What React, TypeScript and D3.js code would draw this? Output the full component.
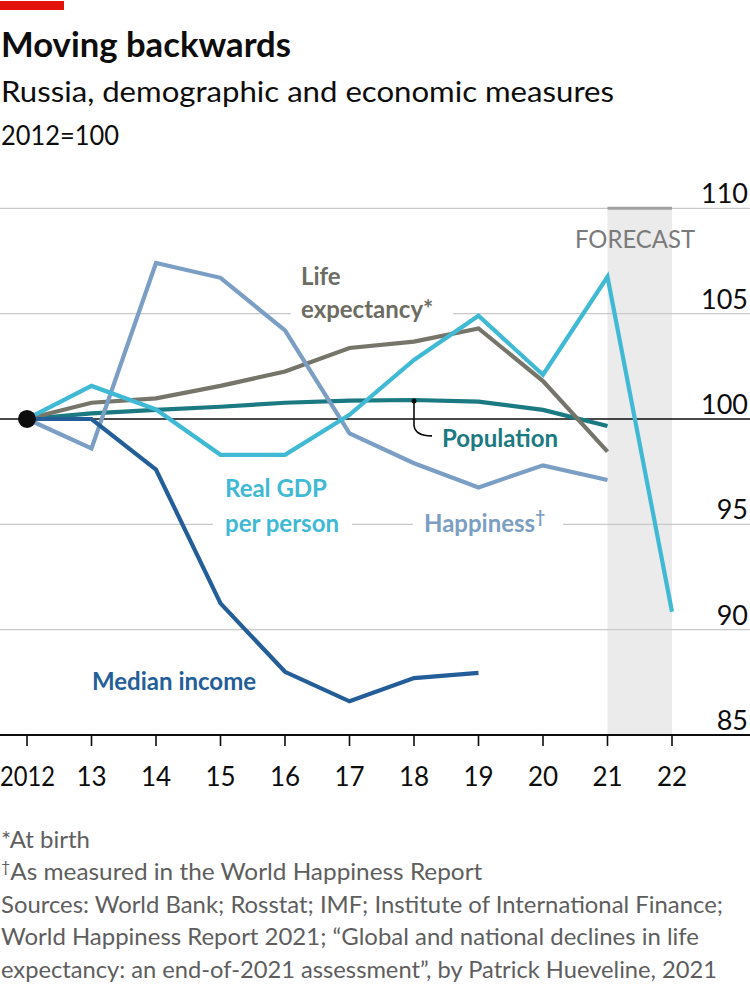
import React from "react";
import * as d3 from "d3";

const years = [2012, 2013, 2014, 2015, 2016, 2017, 2018, 2019, 2020, 2021, 2022];
const xTickLabels = ["2012", "13", "14", "15", "16", "17", "18", "19", "20", "21", "22"];
const yTicks = [85, 90, 95, 100, 105, 110];

const medianIncome = [100, 100, 97.6, 91.25, 88.0, 86.6, 87.7, 87.95];
const realGdp = [100, 101.57, 100.45, 98.3, 98.3, 100.2, 102.8, 104.9, 102.1, 106.75, 90.85];
const lifeExpectancy = [100, 100.77, 100.98, 101.57, 102.25, 103.37, 103.67, 104.3, 101.8, 98.45];
const population = [100, 100.27, 100.43, 100.58, 100.77, 100.87, 100.9, 100.82, 100.43, 99.67];
const happiness = [100, 98.6, 107.4, 106.7, 104.2, 99.32, 97.9, 96.75, 97.8, 97.1];

const forecastStart = 2021;
const forecastEnd = 2022;

const FONT = "Lato, 'Open Sans', sans-serif";

export default function App() {
  const W = 750;
  const H = 999;
  const x = d3.scaleLinear().domain([2012, 2022]).range([27, 672]);
  const y = d3.scaleLinear().domain([85, 110]).range([735, 208.3]);

  const line = d3
    .line<number>()
    .x((_, i) => x(years[i]))
    .y((d) => y(d));

  const series = [
    { key: "pop", values: population, color: "#1b7a81" },
    { key: "life", values: lifeExpectancy, color: "#76756a" },
    { key: "happy", values: happiness, color: "#7b9ec4" },
    { key: "income", values: medianIncome, color: "#245e99" },
    { key: "gdp", values: realGdp, color: "#40b9d5" },
  ];

  const labelStyle = { fontFamily: FONT, fontWeight: 700, fontSize: 24 } as const;

  return (
    <svg
      width={W}
      height={H}
      style={{ position: "absolute", left: 0, top: 0, background: "#fff" }}
    >
      <rect x={0} y={0} width={W} height={H} fill="#fff" />
      <rect x={0} y={1} width={64} height={9} fill="#e3120b" />
      <text x={1} y={57} fontFamily={FONT} fontWeight={700} fontSize={34} fill="#0d0d0d" textLength={290} lengthAdjust="spacingAndGlyphs">
        Moving backwards
      </text>
      <text x={1} y={102} fontFamily={FONT} fontSize={28} fill="#0d0d0d" textLength={613} lengthAdjust="spacingAndGlyphs">
        Russia, demographic and economic measures
      </text>
      <text x={1} y={145} fontFamily={FONT} fontSize={27} fill="#0d0d0d" textLength={118} lengthAdjust="spacingAndGlyphs">
        2012=100
      </text>

      {/* forecast band */}
      <rect
        x={x(forecastStart)}
        y={y(110)}
        width={x(forecastEnd) - x(forecastStart)}
        height={y(85) - y(110)}
        fill="#ebebeb"
      />

      {/* gridlines */}
      {yTicks
        .filter((t) => t !== 100 && t !== 85)
        .map((t) => (
          <line key={t} x1={0} x2={W} y1={y(t)} y2={y(t)} stroke="#c9c9c9" strokeWidth={1.3} />
        ))}
      <line
        x1={x(forecastStart)}
        x2={x(forecastEnd)}
        y1={y(110)}
        y2={y(110)}
        stroke="#a0a0a0"
        strokeWidth={3}
      />
      <text x={635} y={248} textAnchor="middle" fontFamily={FONT} fontSize={25} fill="#7a7a7a" textLength={120} lengthAdjust="spacingAndGlyphs">
        FORECAST
      </text>

      {/* label background gaps */}
      <rect x={291} y={294} width={162} height={34} fill="#fff" />
      <rect x={213} y={508} width={139} height={32} fill="#fff" />
      <rect x={413} y={508} width={150} height={32} fill="#fff" />

      {/* y tick labels */}
      {yTicks.map((t) => (
        <text key={t} x={748} y={y(t) - 5} textAnchor="end" fontFamily={FONT} fontSize={27} fill="#0d0d0d">
          {t}
        </text>
      ))}

      {/* baseline 100 */}
      <line x1={0} x2={W} y1={y(100)} y2={y(100)} stroke="#0d0d0d" strokeWidth={1.6} />

      {/* series */}
      {series.map((s) => (
        <path
          key={s.key}
          d={line(s.values) || ""}
          fill="none"
          stroke={s.color}
          strokeWidth={4.2}
          strokeLinejoin="miter"
        />
      ))}
      <circle cx={x(2012)} cy={y(100)} r={9} fill="#0d0d0d" />

      {/* population pointer */}
      <path
        d={`M${x(2018)},${y(100.85)} L${x(2018)},${y(99.7)} Q${x(2018) + 1},${y(99.2)} ${x(2018) + 18},${y(99.2)}`}
        fill="none"
        stroke="#0d0d0d"
        strokeWidth={1.6}
      />
      <circle cx={x(2018)} cy={y(100.85)} r={2.5} fill="#0d0d0d" />

      {/* labels */}
      <text x={301} y={285} {...labelStyle} fill="#6d6c62">Life</text>
      <text x={301} y={318} {...labelStyle} fill="#6d6c62">expectancy*</text>
      <text x={442} y={447} {...labelStyle} fill="#1b7a81">Population</text>
      <text x={225} y={497} {...labelStyle} fill="#40b9d5">Real GDP</text>
      <text x={225} y={532} {...labelStyle} fill="#40b9d5">per person</text>
      <text x={424} y={532} {...labelStyle} fill="#7b9ec4">
        Happiness<tspan dy={-9} fontSize={17}>†</tspan>
      </text>
      <text x={92} y={690} {...labelStyle} fill="#245e99">Median income</text>

      {/* x axis */}
      <line x1={0} x2={W} y1={y(85)} y2={y(85)} stroke="#0d0d0d" strokeWidth={2} />
      {years.map((yr, i) => (
        <g key={yr}>
          <line x1={x(yr)} x2={x(yr)} y1={y(85)} y2={y(85) + 11} stroke="#0d0d0d" strokeWidth={1.6} />
          {i === 0 ? (
            <text x={0} y={786} textAnchor="start" fontFamily={FONT} fontSize={26} fill="#0d0d0d" textLength={55} lengthAdjust="spacingAndGlyphs">
              {xTickLabels[i]}
            </text>
          ) : (
            <text x={x(yr)} y={786} textAnchor="middle" fontFamily={FONT} fontSize={26} fill="#0d0d0d">
              {xTickLabels[i]}
            </text>
          )}
        </g>
      ))}

      {/* footnotes */}
      <g fontFamily={FONT} fontSize={24} fill="#5e5e5e">
        <text x={1} y={848} textLength={89} lengthAdjust="spacingAndGlyphs">*At birth</text>
        <text x={1} y={880}>
          <tspan fontSize={16} dy={-8}>†</tspan>
          <tspan dy={8} textLength={472} lengthAdjust="spacingAndGlyphs">As measured in the World Happiness Report</tspan>
        </text>
        <text x={1} y={913} textLength={722} lengthAdjust="spacingAndGlyphs">
          Sources: World Bank; Rosstat; IMF; Institute of International Finance;
        </text>
        <text x={1} y={945} textLength={698} lengthAdjust="spacingAndGlyphs">
          World Happiness Report 2021; “Global and national declines in life
        </text>
        <text x={1} y={978} textLength={716} lengthAdjust="spacingAndGlyphs">
          expectancy: an end-of-2021 assessment”, by Patrick Hueveline, 2021
        </text>
      </g>
    </svg>
  );
}
